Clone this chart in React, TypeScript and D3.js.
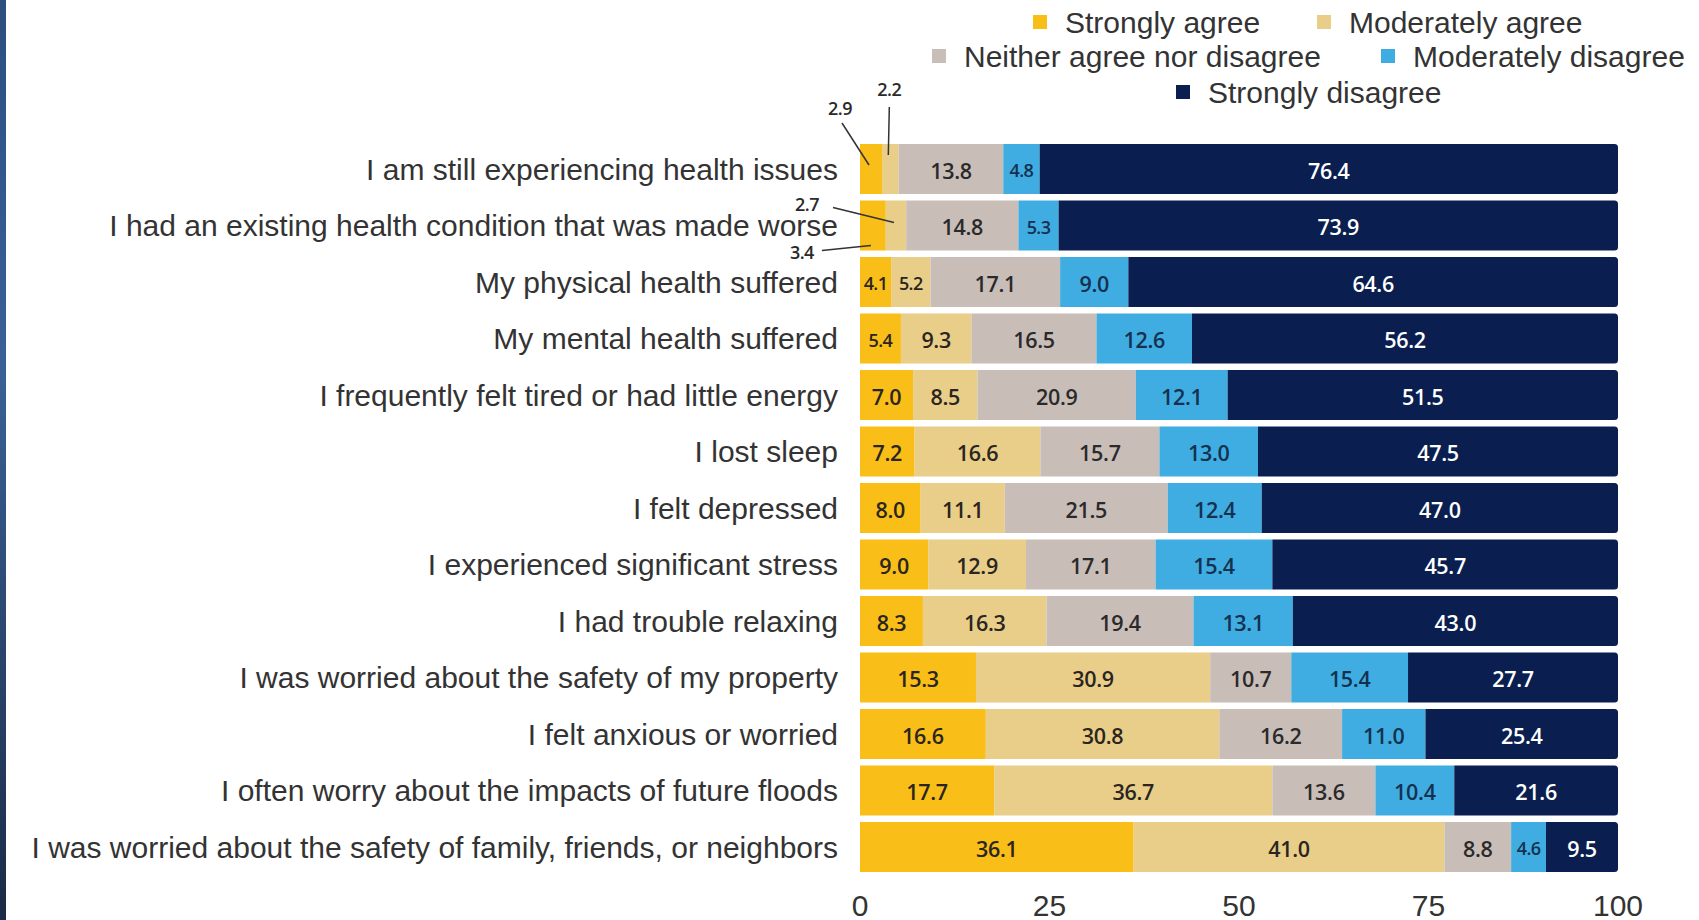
import React, { useEffect, useRef } from "react";
import * as d3 from "d3";

const categories = [
  "I am still experiencing health issues",
  "I had an existing health condition that was made worse",
  "My physical health suffered",
  "My mental health suffered",
  "I frequently felt tired or had little energy",
  "I lost sleep",
  "I felt depressed",
  "I experienced significant stress",
  "I had trouble relaxing",
  "I was worried about the safety of my property",
  "I felt anxious or worried",
  "I often worry about the impacts of future floods",
  "I was worried about the safety of family, friends, or neighbors",
];

const seriesNames = [
  "Strongly agree",
  "Moderately agree",
  "Neither agree nor disagree",
  "Moderately disagree",
  "Strongly disagree",
];

const stronglyAgree = [2.9, 3.4, 4.1, 5.4, 7.0, 7.2, 8.0, 9.0, 8.3, 15.3, 16.6, 17.7, 36.1];
const moderatelyAgree = [2.2, 2.7, 5.2, 9.3, 8.5, 16.6, 11.1, 12.9, 16.3, 30.9, 30.8, 36.7, 41.0];
const neither = [13.8, 14.8, 17.1, 16.5, 20.9, 15.7, 21.5, 17.1, 19.4, 10.7, 16.2, 13.6, 8.8];
const moderatelyDisagree = [4.8, 5.3, 9.0, 12.6, 12.1, 13.0, 12.4, 15.4, 13.1, 15.4, 11.0, 10.4, 4.6];
const stronglyDisagree = [76.4, 73.9, 64.6, 56.2, 51.5, 47.5, 47.0, 45.7, 43.0, 27.7, 25.4, 21.6, 9.5];

const xTicks = [0, 25, 50, 75, 100];

const colors = ["#F9BE17", "#E9CE89", "#C9BDB8", "#3FADE2", "#0A1F4F"];
const textColors = ["#2a2520", "#2a2520", "#2a2a2a", "#14314f", "#ffffff"];

// annotated (outside) small values: [row, series, text dx, text dy, line start dx, line start dy, line end dy]
const annotations: [number, number, number, number, number, number, number][] = [
  [0, 0, -31, -61, -29, -46, -4],
  [0, 1, -1, -80, -1, -62, -14],
  [1, 1, -89, -22, -63, -18, -3],
  [1, 0, -71, 26, -51, 25, 20],
];

export default function App() {
  const ref = useRef<SVGSVGElement>(null);

  useEffect(() => {
    const svg = d3.select(ref.current);
    svg.selectAll("*").remove();

    const W = 1699, H = 920;
    const x = d3.scaleLinear().domain([0, 100]).range([860, 1618]);
    const y = d3
      .scaleBand<string>()
      .domain(categories)
      .range([140.75, 875.25])
      .paddingInner(0.115)
      .paddingOuter(0.0575);

    const defs = svg.append("defs");
    const grad = defs
      .append("linearGradient")
      .attr("id", "strip")
      .attr("x1", 0).attr("y1", 0).attr("x2", 0).attr("y2", 1);
    grad.append("stop").attr("offset", "0%").attr("stop-color", "#2d4e7e");
    grad.append("stop").attr("offset", "14%").attr("stop-color", "#30558a");
    grad.append("stop").attr("offset", "40%").attr("stop-color", "#3a6196");
    grad.append("stop").attr("offset", "100%").attr("stop-color", "#1b2a45");

    svg.append("rect").attr("width", W).attr("height", H).attr("fill", "#ffffff");
    svg.append("rect").attr("x", 0).attr("y", 0).attr("width", 6).attr("height", H).attr("fill", "url(#strip)");

    const series = [stronglyAgree, moderatelyAgree, neither, moderatelyDisagree, stronglyDisagree];
    const rows = categories.map((c, i) => {
      const o: any = { cat: c };
      seriesNames.forEach((s, j) => (o[s] = series[j][i]));
      return o;
    });
    const stack = d3.stack<any>().keys(seriesNames)(rows);

    const g = svg.append("g");
    const r = 3.5;
    stack.forEach((layer, si) => {
      layer.forEach((d, ri) => {
        const x0 = x(d[0]);
        const x1 = si === seriesNames.length - 1 ? x(100) : x(d[1]);
        const yy = y(categories[ri])!;
        const h = y.bandwidth();
        if (si === seriesNames.length - 1) {
          const p = d3.path();
          p.moveTo(x0, yy);
          p.lineTo(x1 - r, yy);
          p.arcTo(x1, yy, x1, yy + r, r);
          p.lineTo(x1, yy + h - r);
          p.arcTo(x1, yy + h, x1 - r, yy + h, r);
          p.lineTo(x0, yy + h);
          p.closePath();
          g.append("path").attr("d", p.toString()).attr("fill", colors[si]);
        } else {
          g.append("rect")
            .attr("x", x0)
            .attr("y", yy)
            .attr("width", x1 - x0)
            .attr("height", h)
            .attr("fill", colors[si]);
        }
      });
    });

    // value labels inside
    stack.forEach((layer, si) => {
      layer.forEach((d, ri) => {
        const v = series[si][ri];
        const x0 = x(d[0]);
        const x1 = si === seriesNames.length - 1 ? x(100) : x(d[1]);
        const w = x1 - x0;
        if (w < 28) return;
        const fs = w < 42 ? 18 : 21.5;
        g.append("text")
          .attr("x", (x0 + x1) / 2)
          .attr("y", y(categories[ri])! + y.bandwidth() / 2 + 1)
          .attr("text-anchor", "middle")
          .attr("dominant-baseline", "central")
          .attr("font-family", "'Open Sans', sans-serif")
          .attr("font-weight", 600)
          .attr("font-size", fs)
          .attr("letter-spacing", w < 42 ? -0.6 : -0.3)
          .attr("fill", textColors[si])
          .text(v.toFixed(1));
      });
    });

    // outside annotations
    annotations.forEach(([ri, si, tdx, tdy, ldx, ldy, edy]) => {
      const d = stack[si][ri];
      const cx = (x(d[0]) + x(d[1])) / 2;
      const cy = y(categories[ri])! + y.bandwidth() / 2;
      g.append("line")
        .attr("x1", cx + ldx)
        .attr("y1", cy + ldy)
        .attr("x2", cx - 2)
        .attr("y2", cy + edy)
        .attr("stroke", "#333")
        .attr("stroke-width", 1.5);
      g.append("text")
        .attr("x", cx + tdx)
        .attr("y", cy + tdy)
        .attr("text-anchor", "middle")
        .attr("dominant-baseline", "central")
        .attr("font-family", "'Open Sans', sans-serif")
        .attr("font-weight", 600)
        .attr("font-size", 18)
        .attr("letter-spacing", -0.5)
        .attr("fill", "#2a2a2a")
        .text(series[si][ri].toFixed(1));
    });

    // category labels
    svg
      .append("g")
      .selectAll("text")
      .data(categories)
      .join("text")
      .attr("x", 838)
      .attr("y", (c) => y(c)! + y.bandwidth() / 2)
      .attr("text-anchor", "end")
      .attr("dominant-baseline", "central")
      .attr("font-family", "'Liberation Sans', Arial, sans-serif")
      .attr("font-size", 30)
      .attr("fill", "#333")
      .text((c) => c);

    // x ticks
    svg
      .append("g")
      .selectAll("text")
      .data(xTicks)
      .join("text")
      .attr("x", (t) => x(t))
      .attr("y", 905)
      .attr("text-anchor", "middle")
      .attr("dominant-baseline", "central")
      .attr("font-family", "'Liberation Sans', Arial, sans-serif")
      .attr("font-size", 30)
      .attr("fill", "#333")
      .text((t) => String(t));

    // legend
    const legendItems: [number, number, number][] = [
      [0, 1040, 22],
      [1, 1324, 22],
      [2, 939, 56],
      [3, 1388, 56],
      [4, 1183, 92],
    ];
    const lg = svg.append("g");
    legendItems.forEach(([si, lx, ly]) => {
      lg.append("rect")
        .attr("x", lx - 7)
        .attr("y", ly - 7)
        .attr("width", 14)
        .attr("height", 14)
        .attr("fill", colors[si]);
      lg.append("text")
        .attr("x", lx + 25)
        .attr("y", ly)
        .attr("dominant-baseline", "central")
        .attr("font-family", "'Liberation Sans', Arial, sans-serif")
        .attr("font-size", 30)
        .attr("fill", "#333")
        .text(seriesNames[si]);
    });
  }, []);

  return (
    <svg
      ref={ref}
      width={1699}
      height={920}
      style={{ position: "absolute", left: 0, top: 0, display: "block" }}
    />
  );
}
